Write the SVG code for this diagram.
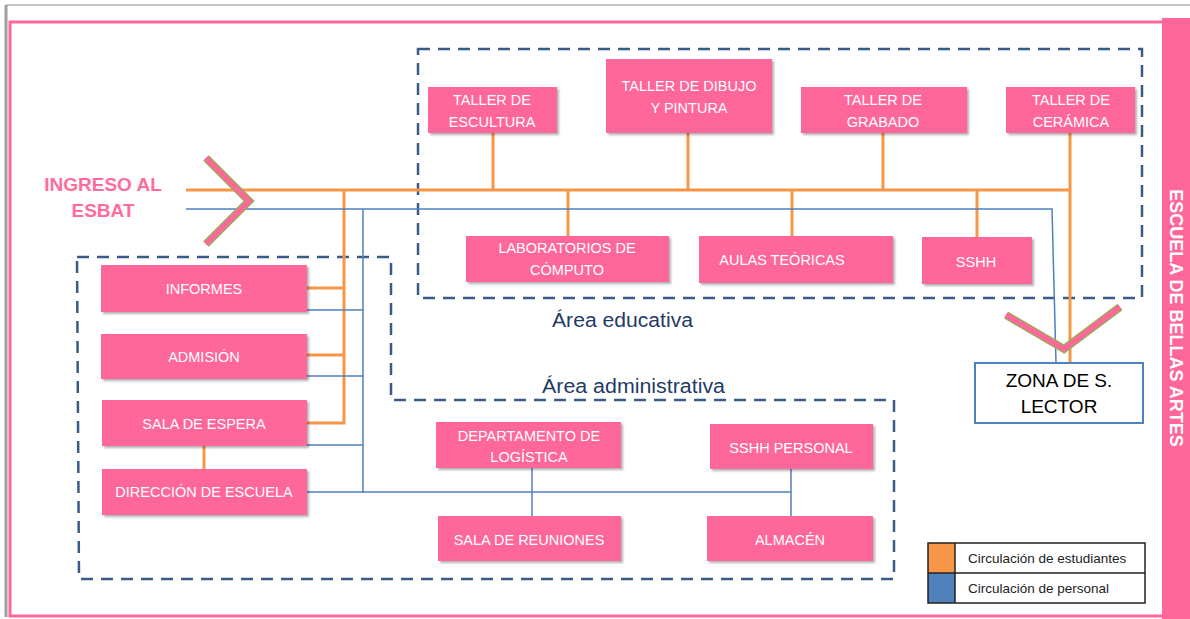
<svg xmlns="http://www.w3.org/2000/svg" width="1190" height="619" viewBox="0 0 1190 619">
<defs>
<filter id="sh" x="-5%" y="-10%" width="115%" height="130%">
<feDropShadow dx="2" dy="2" stdDeviation="1" flood-color="#000" flood-opacity="0.3"/>
</filter>
<style>
.box{fill:#FF6699;filter:url(#sh);}
.bt{font-family:"Liberation Sans",Arial,sans-serif;font-size:14.5px;fill:#FFFFFF;text-anchor:middle;}
.or{stroke:#F79646;stroke-width:3;fill:none;}
.bl{stroke:#4F81BD;stroke-width:1.5;fill:none;}
.dash{stroke:#3A5A88;stroke-width:2.5;fill:none;stroke-dasharray:12 8;}
.area{font-family:"Liberation Sans",Arial,sans-serif;font-size:20px;fill:#1F3B66;}
.chev{fill:none;stroke-linejoin:miter;}
.leg{font-family:"Liberation Sans",Arial,sans-serif;font-size:13.5px;fill:#222;}
</style>
</defs>
<rect x="0" y="0" width="1190" height="619" fill="#FFFFFF"/>
<!-- page edges -->
<line x1="6" y1="5" x2="1190" y2="5" stroke="#B0B0B0" stroke-width="1.5"/>
<line x1="6" y1="5" x2="6" y2="617" stroke="#A0A0A0" stroke-width="3"/>
<!-- pink frame -->
<rect x="10" y="22" width="1160" height="594" fill="none" stroke="#FF6699" stroke-width="3"/>
<rect id="side-bar" x="1162" y="18" width="28" height="601" fill="#FF6699"/>
<text x="0" y="0" transform="translate(1170,318) rotate(90)" text-anchor="middle" font-family="'Liberation Sans',Arial,sans-serif" font-weight="bold" font-size="18" fill="#FFFFFF">ESCUELA DE BELLAS ARTES</text>

<!-- areas -->
<g id="area-educativa">
<rect x="418" y="49" width="724" height="249" class="dash"/>
<text x="552" y="327" class="area" textLength="141" lengthAdjust="spacingAndGlyphs">Área educativa</text>
</g>
<g id="area-administrativa">
<path d="M77,257 H391 V400 H894 V579 H79 Z" class="dash"/>
<text x="542" y="393" class="area" textLength="183" lengthAdjust="spacingAndGlyphs">Área administrativa</text>
</g>

<!-- connectors -->
<g id="connectors">
<!-- orange: student circulation -->
<line x1="186" y1="190" x2="1071" y2="190" class="or"/>
<line x1="493" y1="133" x2="493" y2="190" class="or"/>
<line x1="688" y1="133" x2="688" y2="190" class="or"/>
<line x1="883" y1="133" x2="883" y2="190" class="or"/>
<line x1="1070" y1="133" x2="1070" y2="363" class="or"/>
<line x1="568" y1="190" x2="568" y2="236" class="or"/>
<line x1="792" y1="190" x2="792" y2="236" class="or"/>
<line x1="977" y1="190" x2="977" y2="237" class="or"/>
<path d="M344,190 V423 H307" class="or"/>
<line x1="307" y1="288" x2="344" y2="288" class="or"/>
<line x1="307" y1="355" x2="344" y2="355" class="or"/>
<line x1="204" y1="446" x2="204" y2="469" class="or"/>
<!-- blue: staff circulation -->
<path d="M186,209 H1052 L1056,363" class="bl"/>
<line x1="363" y1="209" x2="363" y2="493" class="bl"/>
<line x1="307" y1="310" x2="363" y2="310" class="bl"/>
<line x1="307" y1="376" x2="363" y2="376" class="bl"/>
<line x1="307" y1="445" x2="363" y2="445" class="bl"/>
<line x1="307" y1="492" x2="791" y2="492" class="bl"/>
<line x1="532" y1="468" x2="532" y2="516" class="bl"/>
<line x1="791" y1="469" x2="791" y2="516" class="bl"/>
</g>

<!-- entry -->
<g id="ingreso">
<text x="103" y="191" text-anchor="middle" font-family="'Liberation Sans',Arial,sans-serif" font-weight="bold" font-size="19" fill="#FF6C9B">INGRESO AL</text>
<text x="103" y="217" text-anchor="middle" font-family="'Liberation Sans',Arial,sans-serif" font-weight="bold" font-size="19" fill="#FF6C9B">ESBAT</text>
<polyline points="206,158 249,201 206,244" class="chev" stroke="#9BAA5C" stroke-width="8"/>
<polyline points="206,158 249,201 206,244" class="chev" stroke="#FF6699" stroke-width="5"/>
</g>
<g id="salida">
<polyline points="1006,315 1064,349 1120,307" class="chev" stroke="#9BAA5C" stroke-width="8"/>
<polyline points="1006,315 1064,349 1120,307" class="chev" stroke="#FF6699" stroke-width="5"/>
</g>

<!-- educational nodes -->
<g id="taller-escultura"><rect x="428" y="87" width="129" height="46" class="box"/><text x="492" y="105" class="bt">TALLER  DE</text><text x="492" y="127" class="bt">ESCULTURA</text></g>
<g id="taller-dibujo"><rect x="606" y="59" width="166" height="74" class="box"/><text x="689" y="91" class="bt">TALLER  DE DIBUJO</text><text x="689" y="113" class="bt">Y PINTURA</text></g>
<g id="taller-grabado"><rect x="801" y="87" width="166" height="46" class="box"/><text x="883" y="105" class="bt">TALLER  DE</text><text x="883" y="127" class="bt">GRABADO</text></g>
<g id="taller-ceramica"><rect x="1006" y="87" width="129" height="46" class="box"/><text x="1071" y="105" class="bt">TALLER  DE</text><text x="1071" y="127" class="bt">CERÁMICA</text></g>
<g id="laboratorios"><rect x="466" y="236" width="203" height="46" class="box"/><text x="567" y="253" class="bt">LABORATORIOS DE</text><text x="567" y="275" class="bt">CÓMPUTO</text></g>
<g id="aulas"><rect x="699" y="236" width="194" height="47" class="box"/><text x="782" y="265" class="bt">AULAS  TEÓRICAS</text></g>
<g id="sshh"><rect x="922" y="237" width="110" height="47" class="box"/><text x="976" y="267" class="bt">SSHH</text></g>

<!-- administrative nodes -->
<g id="informes"><rect x="101" y="265" width="206" height="47" class="box"/><text x="204" y="294" class="bt">INFORMES</text></g>
<g id="admision"><rect x="101" y="334" width="206" height="45" class="box"/><text x="204" y="362" class="bt">ADMISIÓN</text></g>
<g id="sala-espera"><rect x="102" y="400" width="205" height="46" class="box"/><text x="204" y="429" class="bt">SALA  DE  ESPERA</text></g>
<g id="direccion"><rect x="102" y="469" width="205" height="46" class="box"/><text x="204" y="497" class="bt">DIRECCIÓN DE ESCUELA</text></g>
<g id="logistica"><rect x="436" y="422" width="185" height="46" class="box"/><text x="529" y="441" class="bt">DEPARTAMENTO  DE</text><text x="529" y="462" class="bt">LOGÍSTICA</text></g>
<g id="sshh-personal"><rect x="710" y="424" width="163" height="45" class="box"/><text x="791" y="453" class="bt">SSHH PERSONAL</text></g>
<g id="sala-reuniones"><rect x="438" y="516" width="183" height="45" class="box"/><text x="529" y="545" class="bt">SALA DE  REUNIONES</text></g>
<g id="almacen"><rect x="707" y="516" width="166" height="45" class="box"/><text x="790" y="545" class="bt">ALMACÉN</text></g>

<!-- reading zone -->
<g id="zona-lector">
<rect x="975" y="363" width="168" height="60" fill="#FFFFFF" stroke="#4F81BD" stroke-width="2"/>
<text x="1059" y="387" text-anchor="middle" font-family="'Liberation Sans',Arial,sans-serif" font-size="19" fill="#000">ZONA DE S.</text>
<text x="1059" y="413" text-anchor="middle" font-family="'Liberation Sans',Arial,sans-serif" font-size="19" fill="#000">LECTOR</text>
</g>

<!-- legend -->
<g id="legend">
<rect x="928" y="543" width="27" height="30" fill="#F79646"/>
<rect x="928" y="573" width="27" height="30" fill="#4F81BD"/>
<rect x="928" y="543" width="217" height="60" fill="none" stroke="#222" stroke-width="1.5"/>
<line x1="928" y1="573" x2="1145" y2="573" stroke="#222" stroke-width="1.5"/>
<line x1="955" y1="543" x2="955" y2="603" stroke="#222" stroke-width="1.5"/>
<text x="968" y="563" class="leg">Circulación de estudiantes</text>
<text x="968" y="593" class="leg">Circulación de personal</text>
</g>
</svg>
